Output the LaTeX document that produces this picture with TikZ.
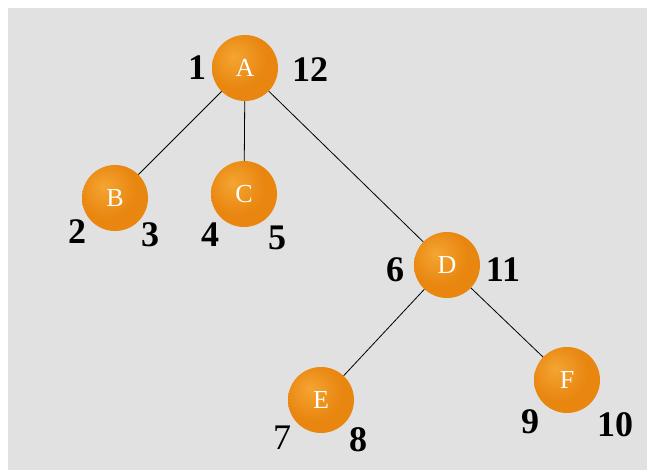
\documentclass[tikz,border=0pt]{standalone}
\usepackage{fontspec}
\setmainfont{Liberation Serif}
\definecolor{bggray}{RGB}{225,225,225}
\definecolor{ballhi}{RGB}{245,165,50}
\definecolor{ballorange}{RGB}{232,134,16}
\definecolor{balldark}{RGB}{175,90,20}
\pgfdeclareradialshading{orangeball}{\pgfpoint{-9bp}{9bp}}{%
  color(0bp)=(ballhi); color(22bp)=(ballorange); color(42bp)=(ballorange);
  color(60bp)=(balldark); color(70bp)=(balldark)}
\begin{document}
\begin{tikzpicture}[x=1pt,y=-1pt,
  vertex/.style={circle, minimum size=66pt, inner sep=0pt, shading=orangeball,
    text=white, font=\fontsize{26}{26}\selectfont},
  visit/.style={inner sep=0pt, font=\fontsize{36}{36}\selectfont\bfseries}]
  \useasboundingbox (0,0) rectangle (648,471);
  \fill[bggray] (8,8) rectangle (647,470);
  % tree edges
  \node[vertex] (A) at (245,68) {A};
  \node[vertex] (B) at (115,198) {B};
  \node[vertex] (C) at (244,194) {C};
  \node[vertex] (D) at (447,265) {D};
  \node[vertex] (E) at (321,400) {E};
  \node[vertex] (F) at (567,380) {F};
  \draw[line width=0.8pt] (A) -- (B);
  \draw[line width=0.8pt] (A) -- (C);
  \draw[line width=0.8pt] (A) -- (D);
  \draw[line width=0.8pt] (D) -- (E);
  \draw[line width=0.8pt] (D) -- (F);
  % discovery and finish times
  \node[visit] (a1) at (197,68) {1};
  \node[visit] (a12) at (310,70) {12};
  \node[visit] (b2) at (77,232) {2};
  \node[visit] (b3) at (150,235) {3};
  \node[visit] (c4) at (210,235) {4};
  \node[visit] (c5) at (277,238) {5};
  \node[visit] (d6) at (395,270) {6};
  \node[visit] (d11) at (503,270) {11};
  \node[visit, font=\fontsize{36}{36}\selectfont] (e7) at (282,438) {7};
  \node[visit] (e8) at (358,440) {8};
  \node[visit] (f9) at (530,422) {9};
  \node[visit] (f10) at (615,425) {10};
\end{tikzpicture}
\end{document}
